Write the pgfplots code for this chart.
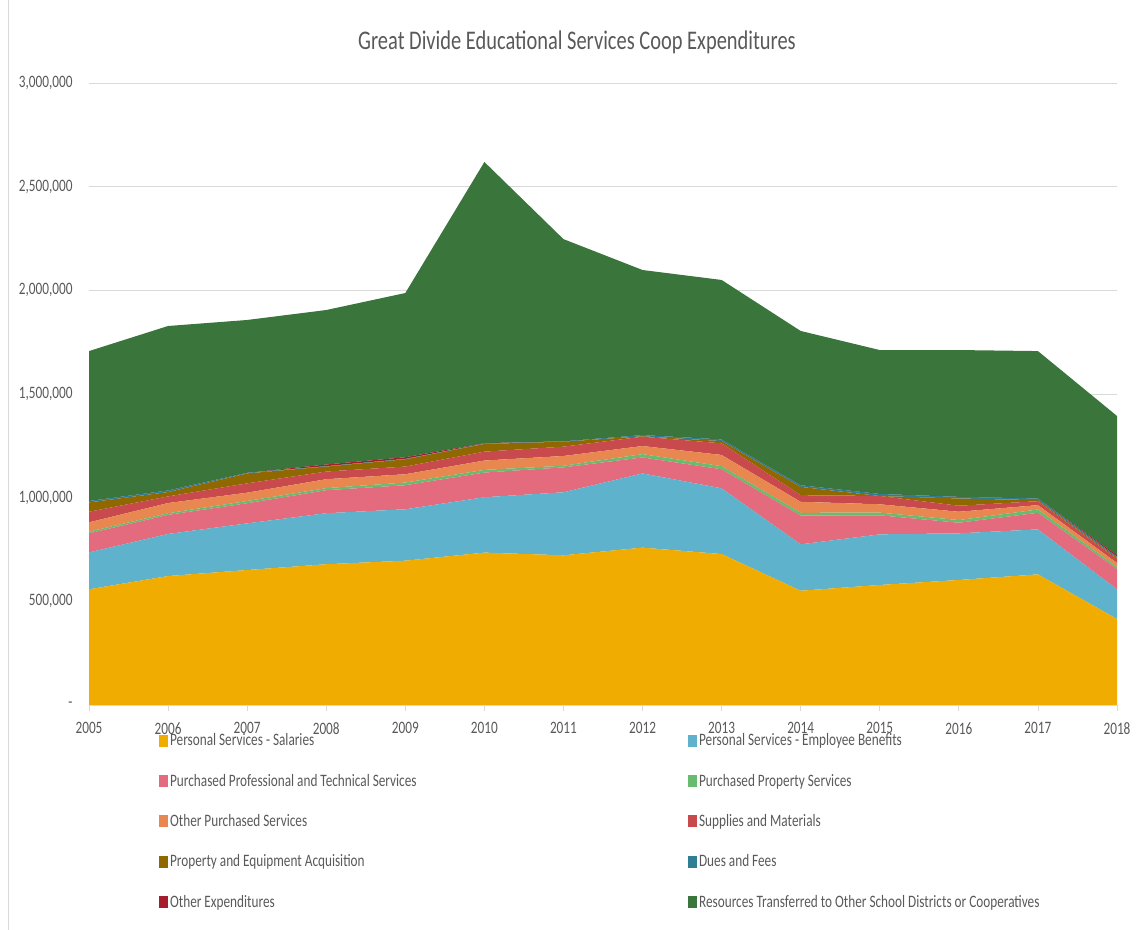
\documentclass[border=0pt]{standalone}
\usepackage{fontspec}
\setmainfont{Carlito}[FakeStretch=0.76]
\usepackage{pgfplots}
\usepackage{pgfplotstable}
\pgfplotsset{compat=1.18}

\definecolor{csal}{RGB}{240,172,0}
\definecolor{cben}{RGB}{94,178,203}
\definecolor{cprof}{RGB}{228,106,126}
\definecolor{cprop}{RGB}{105,188,110}
\definecolor{coth}{RGB}{232,135,80}
\definecolor{csup}{RGB}{200,74,77}
\definecolor{cequip}{RGB}{143,104,0}
\definecolor{cdues}{RGB}{47,126,150}
\definecolor{cothexp}{RGB}{165,30,45}
\definecolor{ctransf}{RGB}{58,117,59}
\definecolor{txtgray}{RGB}{89,89,89}
\definecolor{linegray}{RGB}{217,217,217}

% expenditures by year
\pgfplotstableread{
year sal ben prof prop oth sup equip dues othexp transf
2005 558000 178000  92000  8000 45000 51000 45000  7000    0  723000
2006 622000 203000  92000  8000 49000 32000 21000  8000    0  793000
2007 651000 225000  97000 11000 40000 45000 48000  3000    0  737000
2008 679000 246000 111000 10000 43000 37000 24000  2000 8000  745000
2009 696000 248000 116000 13000 40000 37000 35000  2000 8000  792000
2010 735000 267000 119000 13000 45000 43000 37000  2000 2000 1356000
2011 722000 304000 120000  8000 47000 45000 24000  2000    0  975000
2012 759000 358000  77000 16000 39000 45000  2000  6000    0  796000
2013 728000 317000  92000 15000 54000 56000 11000  8000    0  769000
2014 551000 224000 138000 14000 53000 32000 40000  8000    0  744000
2015 579000 244000  92000 13000 40000 40000     0 10000    0  694000
2016 603000 225000  51000 13000 40000 29000 35000  8000    0  708000
2017 630000 217000  80000 16000 21000 19000  5000  8000    0  711000
2018 415000 143000  98000 10000 19000 19000  5000  6000 8000  671000
}\coopdata

\begin{document}
\begin{tikzpicture}
\path[use as bounding box] (0bp,0bp) rectangle (1137bp,930bp);
\draw[linegray] (8.5bp,0bp) -- (8.5bp,930bp);
\begin{axis}[
    at={(89bp,225bp)}, anchor=south west,
    scale only axis, width=1028bp, height=622bp,
    xmin=2005, xmax=2018, ymin=0, ymax=3000000,
    stack plots=y, area style, axis on top=false,
    axis x line*=bottom, axis y line*=left,
    x axis line style={draw=linegray, line width=0.75bp},
    y axis line style={draw=none},
    ymajorgrids, grid style={draw=linegray, line width=0.75bp},
    xtick={2005,2006,...,2018},
    xticklabels={2005,2006,2007,2008,2009,2010,2011,2012,2013,2014,2015,2016,2017,2018},
    ytick={0,500000,1000000,1500000,2000000,2500000,3000000},
    yticklabels={{-},{500,000},{1,000,000},{1,500,000},{2,000,000},{2,500,000},{3,000,000}},
    scaled y ticks=false,
    tick align=outside,
    xtick style={draw=linegray, line width=0.75bp},
    ytick style={draw=none},
    major tick length=6bp,
    ticklabel style={font=\fontsize{17.5}{17.5}\selectfont, text=txtgray},
    xticklabel style={yshift=-8bp},
    yticklabel style={xshift=-7bp},
    legend image code/.code={\fill[#1] (0bp,-6bp) rectangle (9bp,6bp);},
    legend columns=2,
    legend style={at={(0.068,-0.046)}, anchor=north west, draw=none, fill=none,
        font=\fontsize{17.5}{17.5}\selectfont, text=txtgray,
        column sep=0pt, row sep=26.7bp, inner sep=0pt,
        cells={anchor=west}, nodes={inner sep=0pt}},
]
\addplot[fill=csal, draw=none] table[x=year,y=sal]{\coopdata} \closedcycle;
\addlegendentry{\makebox[520bp][l]{\hspace{2bp}Personal Services - Salaries}}
\addplot[fill=cben, draw=none] table[x=year,y=ben]{\coopdata} \closedcycle;
\addlegendentry{\hspace{2bp}Personal Services - Employee Benefits}
\addplot[fill=cprof, draw=none] table[x=year,y=prof]{\coopdata} \closedcycle;
\addlegendentry{\makebox[520bp][l]{\hspace{2bp}Purchased Professional and Technical Services}}
\addplot[fill=cprop, draw=none] table[x=year,y=prop]{\coopdata} \closedcycle;
\addlegendentry{\hspace{2bp}Purchased Property Services}
\addplot[fill=coth, draw=none] table[x=year,y=oth]{\coopdata} \closedcycle;
\addlegendentry{\makebox[520bp][l]{\hspace{2bp}Other Purchased Services}}
\addplot[fill=csup, draw=none] table[x=year,y=sup]{\coopdata} \closedcycle;
\addlegendentry{\hspace{2bp}Supplies and Materials}
\addplot[fill=cequip, draw=none] table[x=year,y=equip]{\coopdata} \closedcycle;
\addlegendentry{\makebox[520bp][l]{\hspace{2bp}Property and Equipment Acquisition}}
\addplot[fill=cdues, draw=none] table[x=year,y=dues]{\coopdata} \closedcycle;
\addlegendentry{\hspace{2bp}Dues and Fees}
\addplot[fill=cothexp, draw=none] table[x=year,y=othexp]{\coopdata} \closedcycle;
\addlegendentry{\makebox[520bp][l]{\hspace{2bp}Other Expenditures}}
\addplot[fill=ctransf, draw=none] table[x=year,y=transf]{\coopdata} \closedcycle;
\addlegendentry{\hspace{2bp}Resources Transferred to Other School Districts or Cooperatives}
\end{axis}
\node[font=\fontsize{27}{27}\selectfont, text=txtgray] at (577bp,888bp)
    {Great Divide Educational Services Coop Expenditures};
\end{tikzpicture}
\end{document}
